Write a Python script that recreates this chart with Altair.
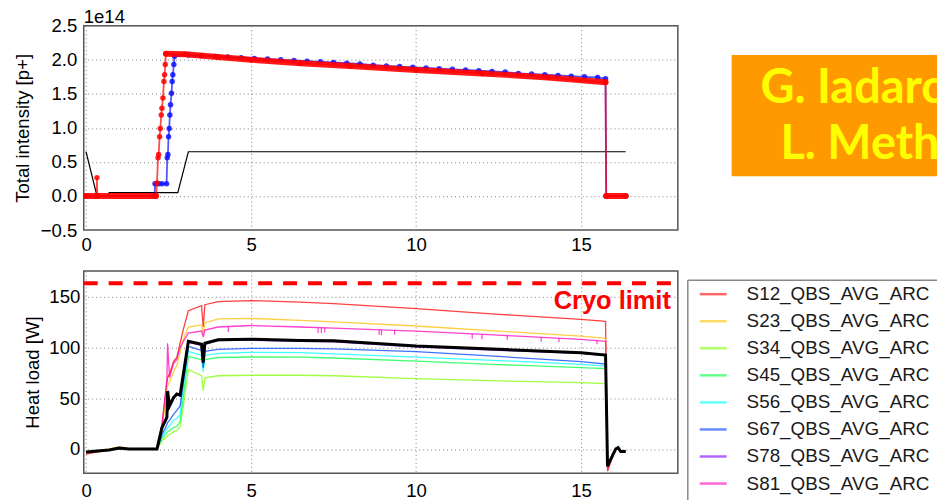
import altair as alt
import pandas as pd

# ---------------- top panel: total intensity (units of 1e14 p+) vs time [h]
x_ticks = [0, 5, 10, 15]
top_y_ticks = [-0.5, 0.0, 0.5, 1.0, 1.5, 2.0, 2.5]

energy_t = [0.0, 0.33, 0.68, 0.70, 2.78, 3.10, 16.35]
energy_v = [0.65, 0.0, 0.0, 0.05, 0.05, 0.65, 0.65]

b1_t = [0.0, 0.32, 0.33, 0.34, 2.12, 2.15, 2.18, 2.20, 2.23, 2.25, 2.28, 2.30, 2.33, 2.36, 2.38, 2.40, 2.42,
        3.0, 4.0, 5.0, 6.5, 8.0, 10.0, 12.0, 14.0, 15.74, 15.76, 16.35]
b1_v = [0.0, 0.0, 0.27, 0.0, 0.0, 0.19, 0.56, 0.61, 0.87, 0.99, 1.19, 1.29, 1.44, 1.68, 1.78, 1.93, 2.09,
        2.08, 2.04, 2.00, 1.95, 1.91, 1.85, 1.80, 1.74, 1.67, 0.0, 0.0]
b1_seg = ["a", "a", "-", "a", "a", "-", "-", "-", "-", "-", "-", "-", "-", "-", "-", "-", "b",
          "b", "b", "b", "b", "b", "b", "b", "b", "b", "c", "c"]

b2_t = [0.0, 2.08, 2.09, 2.2, 2.3, 2.44, 2.46, 2.48, 2.50, 2.52, 2.54, 2.56, 2.59, 2.61, 2.63, 2.66, 2.68,
        3.1, 3.5, 3.9, 4.3, 4.7, 5.1, 5.5, 5.9, 6.3, 6.7, 7.1, 7.5, 7.9, 8.3, 8.7, 9.1, 9.5, 9.9, 10.3,
        10.7, 11.1, 11.5, 11.9, 12.3, 12.7, 13.1, 13.5, 13.9, 14.3, 14.7, 15.1, 15.5, 15.74, 15.76, 16.35]
b2_v = [0.0, 0.0, 0.18, 0.18, 0.18, 0.18, 0.56, 0.61, 0.87, 0.99, 1.19, 1.34, 1.51, 1.68, 1.78, 1.93, 2.05,
        2.07, 2.06, 2.05, 2.04, 2.03, 2.02, 2.01, 2.00, 1.99, 1.98, 1.97, 1.96, 1.95, 1.94, 1.92, 1.91, 1.90,
        1.89, 1.88, 1.87, 1.86, 1.85, 1.84, 1.83, 1.82, 1.80, 1.79, 1.78, 1.77, 1.76, 1.75, 1.74, 1.72, 0.0, 0.0]

# ---------------- bottom panel: heat load [W] vs time [h]
hl_t = [0.0, 0.35, 0.7, 1.0, 1.3, 1.6, 2.15, 2.3, 2.45, 2.47, 2.53, 2.65, 2.75, 2.85, 2.95, 3.1, 3.5, 3.55,
        3.6, 4.0, 5.0, 6.5, 7.5, 10.0, 12.5, 15.0, 15.74, 15.8, 15.95, 16.05, 16.12, 16.2, 16.35]
series_names = ["S12_QBS_AVG_ARC", "S23_QBS_AVG_ARC", "S34_QBS_AVG_ARC", "S45_QBS_AVG_ARC",
                "S56_QBS_AVG_ARC", "S67_QBS_AVG_ARC", "S78_QBS_AVG_ARC", "S81_QBS_AVG_ARC"]
series_colors = ["#ff0000", "#ffbf00", "#80ff00", "#00ff40", "#00ffff", "#0040ff", "#8000ff", "#ff00bf"]
s12 = [-5, -3, -1, 0.5, 0, 0, 0, 22, 66, 70, 74, 86, 90, 104, 118, 136, 141, 120, 142, 145, 146, 144.5, 143,
       138, 132.5, 127.5, 125.5, -22, -8, 0, 1, -3, -2]
s23 = [-3, -2, 0, 2, 0.5, 0, 0, 18, 58, 62, 66, 76, 82, 95, 108, 120, 122, 113, 124, 128, 128.5, 126.5, 125,
       121, 116, 111, 108.8, -18, -6, 0, 2, -2, -2]
s34 = [-3, -2, -1, 0.5, 0, 0, 0, 8, 12, 13, 14, 17, 18, 22, 43, 78, 72, 57, 70, 72, 72.5, 72.5, 72, 69.2, 67,
       65.3, 64.3, -17, -6, 0, 2, -2, -2]
s45 = [-3, -2, -1, 0.5, 0, 0, 0, 10, 16, 17, 18, 21, 22, 27, 52, 91, 88, 80, 88, 90, 90.5, 90.4, 89.5, 86.5,
       83, 80, 79, -17, -6, 0, 3, -2, -2]
s56 = [-3, -2, -1, 0.5, 0, 0, 0, 12, 20, 21, 23, 28, 30, 34, 60, 96, 92, 76, 92, 94, 95, 94.7, 93.5, 90.4, 87,
       83.3, 81.6, -17, -6, 0, 2, -2, -2]
s67 = [-3, -2, -1, 0.5, 0, 0, 0, 14, 24, 26, 28, 34, 38, 42, 66, 101, 97, 80, 96, 98, 99, 99, 98.5, 95.7, 91,
       86, 83.5, -17, -6, 0, 2, -2, -2]
s78 = [-3, -2, -1, 0.5, 0, 0, 0, 20, 30, 40, 41, 49, 53, 52, 72, 105, 102, 88, 103, 106.5, 107, 106, 105.5,
       100.5, 97, 94, 91.8, -17, -6, 0, 2, -2, -2]
s81 = [-3, -2, -1, 0.5, 0, 0, 0, 24, 68, 104, 70, 84, 88, 100, 106, 114, 116, 110, 117, 120, 121.5, 120, 119,
       116, 112, 107.8, 106, -19, -6, 0, 2, -2, -2]
avg_hl = [-3, -2, -1, 0.8, 0, 0, 0, 21, 31, 57, 42.5, 50.6, 54, 53, 74, 106, 103, 85, 104, 107.5, 108, 106.8,
          106.5, 101.2, 98, 94.7, 92.4, -17, -6.6, 0, 1, -2.6, -2.6]
# short downward glitches on S81
s81_glitch_t = [4.31, 7.03, 7.13, 7.23, 8.88, 8.95, 9.35, 11.70, 12.00, 12.76, 13.79, 14.33, 15.48]
s81_glitch_top = [120.5, 119.5, 119.4, 119.3, 117.6, 117.5, 116.9, 113.4, 112.9, 111.6, 109.8, 109.0, 107.0]
s81_glitch_bot = [115, 114, 114, 114.5, 112.5, 112, 112.5, 108.5, 108, 107.5, 105.5, 105, 103]
cryo_limit = [163]

# ---------------- tables
df_energy = pd.DataFrame({"t": energy_t, "v": energy_v})
df_b1 = pd.DataFrame({"t": b1_t, "v": b1_v, "seg": b1_seg})
df_b2 = pd.DataFrame({"t": b2_t, "v": b2_v})
rows = []
for name, vals in zip(series_names, [s12, s23, s34, s45, s56, s67, s78, s81]):
    for t, v in zip(hl_t, vals):
        rows.append({"t": t, "v": v, "series": name})
df_hl = pd.DataFrame(rows)
df_avg = pd.DataFrame({"t": hl_t, "v": avg_hl})
df_glitch = pd.DataFrame({"t": s81_glitch_t, "v": s81_glitch_top, "v2": s81_glitch_bot})
df_cryo = pd.DataFrame({"v": cryo_limit})
one = pd.DataFrame({"k": [0]})

FONT = "Liberation Sans"
FS = 18.6

x_scale = alt.Scale(domain=[-0.07, 17.93], nice=False, zero=False)


def x_axis(pad):
    return alt.Axis(values=x_ticks, format="d", title=None, grid=True, labelPadding=pad, labelFlush=False)


# ---------------- top chart
yt_scale = alt.Scale(domain=[-0.5, 2.5], nice=False, zero=False)
yt_axis = alt.Axis(values=top_y_ticks, format=".1f", title="Total intensity [p+]", titleAngle=270,
                   titleX=-55, titleY=102.5, titleAlign="center", titleBaseline="alphabetic",
                   labelPadding=7, grid=True)
XT = alt.X("t:Q", scale=x_scale, axis=x_axis(5))
YT = alt.Y("v:Q", scale=yt_scale, axis=yt_axis)

energy = alt.Chart(df_energy).mark_line(color="black", strokeWidth=1.2).encode(x=XT, y=YT)
blue_line = alt.Chart(df_b2).mark_line(color="#1010ff", strokeWidth=1.8, opacity=0.7).encode(x=XT, y=YT)
blue_pts = alt.Chart(df_b2).mark_circle(color="#1010ff", size=30, opacity=0.85).encode(x=XT, y=YT)
red_thick = alt.Chart(df_b1).transform_filter("datum.seg != '-'").mark_line(
    color="#ff0000", strokeWidth=6, strokeCap="round", opacity=0.9).encode(x=XT, y=YT, detail="seg:N")
red_line = alt.Chart(df_b1).mark_line(color="#ff0000", strokeWidth=1.8, opacity=0.7).encode(x=XT, y=YT)
red_pts = alt.Chart(df_b1).mark_circle(color="#ff0000", size=30, opacity=0.85).encode(x=XT, y=YT)
exp_txt = alt.Chart(pd.DataFrame({"s": ["1e14"]})).mark_text(
    align="left", baseline="alphabetic", fontSize=FS, color="black", font=FONT).encode(
    x=alt.value(0), y=alt.value(-2.5), text="s:N")
pin = alt.Chart(one).mark_point(filled=True, size=4, opacity=0, strokeWidth=0).encode(
    x=alt.value(-82), y=alt.value(-23))

top = alt.layer(energy, blue_line, blue_pts, red_thick, red_line, red_pts, exp_txt, pin).properties(
    width=596, height=205)

# ---------------- annotation (orange box, cut by the right edge as in the original)
box = alt.Chart(one).mark_rect(color="#ff9900").encode(
    x=alt.value(45), x2=alt.value(251), y=alt.value(29.3), y2=alt.value(151))
name1 = alt.Chart(pd.DataFrame({"s": ["G. Iadarola"]})).mark_text(
    align="left", baseline="alphabetic", font="Lato", fontWeight="bold", fontSize=47, color="#ffff00",
    clip=True).encode(x=alt.value(74), y=alt.value(78), text="s:N")
name2 = alt.Chart(pd.DataFrame({"s": ["L. Mether"]})).mark_text(
    align="left", baseline="alphabetic", font="Lato", fontWeight="bold", fontSize=47, color="#ffff00",
    clip=True).encode(x=alt.value(94), y=alt.value(134), text="s:N")
annot = alt.layer(box, name1, name2).properties(
    width=251, height=151, view=alt.ViewBackground(stroke="transparent"))

# ---------------- bottom chart
yb_scale = alt.Scale(domain=[-24, 175.2], nice=False, zero=False)
yb_axis = alt.Axis(values=[0, 50, 100, 150], title="Heat load [W]", titleAngle=270, titleX=-45,
                   titleY=101.5, titleAlign="center", titleBaseline="alphabetic", labelPadding=4, grid=True)
XB = alt.X("t:Q", scale=x_scale, axis=x_axis(8))
YB = alt.Y("v:Q", scale=yb_scale, axis=yb_axis)
color_scale = alt.Scale(domain=series_names, range=series_colors)

lines = alt.Chart(df_hl).mark_line(strokeWidth=1.3, opacity=0.75).encode(
    x=XB, y=YB, color=alt.Color("series:N", scale=color_scale, legend=None))
glitch = alt.Chart(df_glitch).mark_rule(color="#ff00bf", strokeWidth=1.2, opacity=0.75).encode(
    x=XB, y=YB, y2="v2:Q")
avg = alt.Chart(df_avg).mark_line(color="black", strokeWidth=3).encode(x=XB, y=YB)
cryo = alt.Chart(df_cryo).mark_rule(color="#ff0000", strokeWidth=4, strokeDash=[14, 11]).encode(
    x=alt.value(0), x2=alt.value(596), y=YB)
cryo_txt = alt.Chart(pd.DataFrame({"s": ["Cryo limit"]})).mark_text(
    align="right", baseline="alphabetic", fontSize=25.5, fontWeight="bold", color="#ff0000", font=FONT).encode(
    x=alt.value(589), y=alt.value(38), text="s:N")
bottom = alt.layer(lines, glitch, avg, cryo, cryo_txt).properties(width=596, height=203)

# ---------------- legend (drawn by hand, partly cut by the frame)
leg_df = pd.DataFrame({"series": series_names})
YL = alt.Y("series:N", scale=alt.Scale(type="point", domain=series_names, range=[23.3, 213.3], padding=0),
           axis=None)
box_left = alt.Chart(one).mark_rule(color="#888888", strokeWidth=1.5).encode(
    x=alt.value(1), y=alt.value(9.3), y2=alt.value(230))
box_top = alt.Chart(one).mark_rule(color="#888888", strokeWidth=1.5).encode(
    x=alt.value(1), x2=alt.value(251), y=alt.value(9.3))
leg_sym = alt.Chart(leg_df).mark_rule(strokeWidth=2.5, opacity=0.6).encode(
    x=alt.value(13), x2=alt.value(40), y=YL, color=alt.Color("series:N", scale=color_scale, legend=None))
leg_txt = alt.Chart(leg_df).mark_text(align="left", baseline="middle", fontSize=18.9, color="#1a1a1a",
                                      font=FONT).encode(x=alt.value(60), y=YL, text="series:N")
legend_view = alt.layer(box_left, box_top, leg_sym, leg_txt).properties(
    width=251, height=230, view=alt.ViewBackground(stroke="transparent"))

chart = alt.concat(top, annot, bottom, legend_view, columns=2,
                   spacing={"row": 41, "column": 9}, bounds="flush").properties(padding=0).configure(
    font=FONT).configure_view(stroke="#555555", strokeWidth=1.5).configure_axis(
    labelFont=FONT, titleFont=FONT, labelFontSize=FS, labelColor="#000000", titleFontSize=FS,
    titleFontWeight="normal", titleColor="#000000", domain=False, ticks=False, gridColor="#808080",
    gridDash=[1, 3], gridWidth=1, gridOpacity=1)

chart.save("out.html", embed_options={"renderer": "svg", "actions": False})
